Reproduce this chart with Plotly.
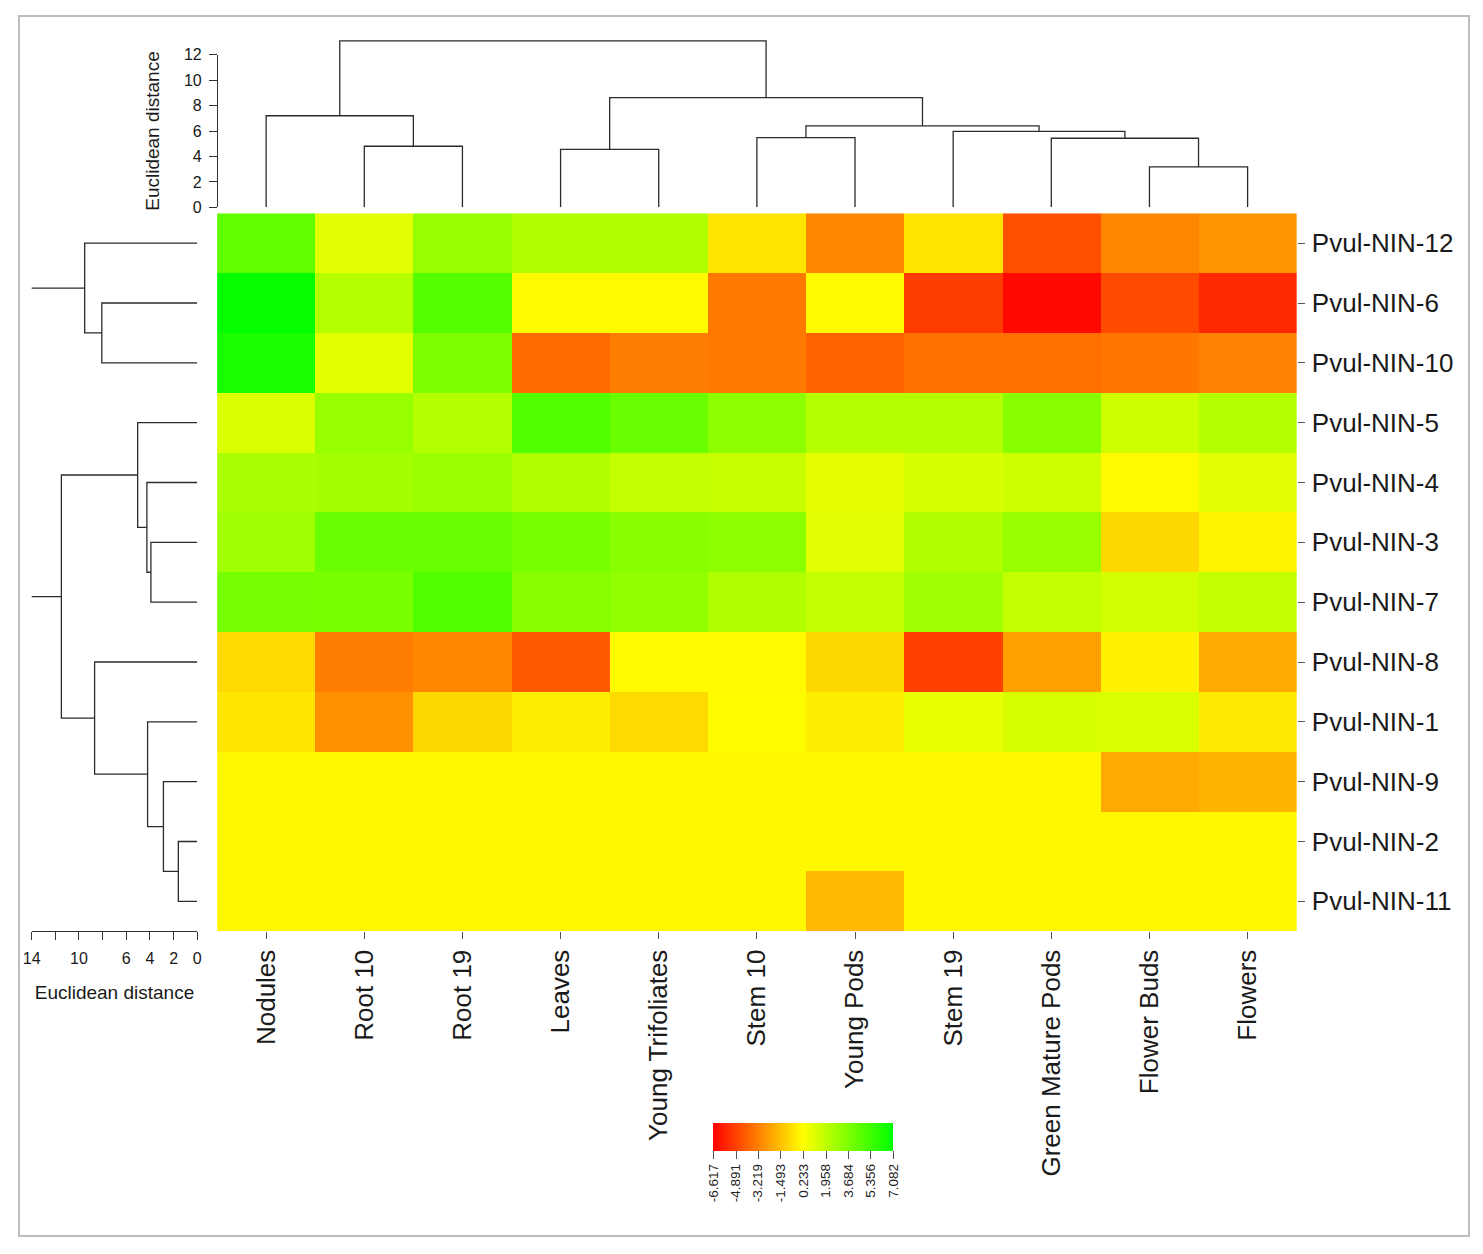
import plotly.graph_objects as go

# page is 1483x1254; the browser body keeps an 8px margin, so the figure is 16px smaller
PAGE_W, PAGE_H, OFF = 1483, 1254, 8
W, H = PAGE_W - 2 * OFF, PAGE_H - 2 * OFF

# ---------------- data ----------------
columns = ["Nodules", "Root 10", "Root 19", "Leaves", "Young Trifoliates", "Stem 10",
           "Young Pods", "Stem 19", "Green Mature Pods", "Flower Buds", "Flowers"]
genes = ["Pvul-NIN-12", "Pvul-NIN-6", "Pvul-NIN-10", "Pvul-NIN-5", "Pvul-NIN-4",
         "Pvul-NIN-3", "Pvul-NIN-7", "Pvul-NIN-8", "Pvul-NIN-1", "Pvul-NIN-9",
         "Pvul-NIN-2", "Pvul-NIN-11"]

nin12 = [4.53, 1.04, 3.05, 2.38, 2.38, -0.44, -2.99, -0.49, -4.47, -2.99, -2.59]
nin6 = [6.95, 2.25, 4.80, 0.10, 0.10, -3.39, 0.10, -5.01, -6.35, -4.60, -5.54]
nin10 = [6.41, 0.96, 3.72, -3.80, -3.26, -3.39, -3.93, -3.61, -3.61, -3.45, -3.13]
nin5 = [1.17, 3.05, 2.25, 4.93, 4.26, 3.32, 2.25, 2.25, 3.45, 1.57, 2.25]
nin4 = [2.52, 2.65, 2.92, 2.38, 1.84, 1.71, 0.90, 1.31, 1.57, 0.10, 1.04]
nin3 = [2.78, 4.26, 4.26, 3.86, 3.45, 3.32, 1.04, 2.38, 3.05, -0.84, -0.03]
nin7 = [3.91, 3.86, 4.93, 3.45, 3.18, 2.38, 1.84, 2.78, 1.84, 1.44, 1.84]
nin8 = [-0.77, -3.26, -2.99, -4.20, 0.10, 0.10, -0.84, -4.87, -2.32, -0.12, -2.05]
nin1 = [-0.44, -2.72, -0.84, -0.23, -0.77, 0.15, -0.23, 0.89, 1.31, 1.23, -0.39]
nin9 = [0.04, 0.04, 0.04, 0.04, 0.04, 0.04, 0.04, 0.04, 0.04, -2.05, -1.78]
nin2 = [0.04, 0.04, 0.04, 0.04, 0.04, 0.04, 0.04, 0.04, 0.04, 0.04, 0.04]
nin11 = [0.04, 0.04, 0.04, 0.04, 0.04, 0.04, -1.65, 0.04, 0.04, 0.04, 0.04]

# hclust-style merges: negative = leaf (1-based), positive = earlier merge (1-based)
col_merge = [[-2, -3], [-1, 1], [-4, -5], [-6, -7], [-10, -11], [-9, 5], [-8, 6],
             [4, 7], [3, 8], [2, 9]]
col_height = [4.8, 7.2, 4.55, 5.48, 3.18, 5.43, 5.97, 6.41, 8.63, 13.08]

row_merge = [[-2, -3], [-1, 1], [-6, -7], [-5, 3], [-4, 4], [-11, -12], [-10, 6],
             [-9, 7], [-8, 8], [5, 9], [2, 10]]
row_height = [8.07, 9.52, 3.92, 4.26, 5.04, 1.6, 2.86, 4.2, 8.68, 11.49, 15.0]

cb_ticks = [-6.617, -4.891, -3.219, -1.493, 0.233, 1.958, 3.684, 5.356, 7.082]
cb_labels = ["-6.617", "-4.891", "-3.219", "-1.493", "0.233", "1.958", "3.684", "5.356", "7.082"]
zmin, zmax = -6.617, 7.082

dist_ticks_top = [0, 2, 4, 6, 8, 10, 12]
dist_ticks_left = [0, 2, 4, 6, 8, 10, 12, 14]
dist_labels_left = ["0", "2", "4", "6", "", "10", "", "14"]

z = [nin12, nin6, nin10, nin5, nin4, nin3, nin7, nin8, nin1, nin9, nin2, nin11]


def fx(X):
    """page pixel x -> paper fraction"""
    return (X - OFF) / W


def fy(Y):
    """page pixel y (from top) -> paper fraction"""
    return (H - (Y - OFF)) / H


def dendro_segments(merge, heights):
    pos, hgt = [], []
    P, Hs = [], []

    def get(k):
        if k < 0:
            return -k - 1, 0.0
        return pos[k - 1], hgt[k - 1]

    for (a, b), h in zip(merge, heights):
        pa, ha = get(a)
        pb, hb = get(b)
        P += [pa, pa, pb, pb, None]
        Hs += [ha, h, h, hb, None]
        pos.append((pa + pb) / 2.0)
        hgt.append(h)
    return P, Hs


LINE = dict(color="#2b2b2b", width=1.3)
FONT = "Liberation Sans, Arial, sans-serif"

fig = go.Figure()

fig.add_trace(go.Heatmap(
    z=z, x=list(range(len(columns))), y=list(range(len(genes))),
    zmin=zmin, zmax=zmax,
    colorscale=[[0, "rgb(255,0,0)"], [0.5, "rgb(255,255,0)"], [1, "rgb(0,255,0)"]],
    xaxis="x", yaxis="y",
    colorbar=dict(orientation="h", x=fx(802), xanchor="center", y=fy(1130),
                  yanchor="top", len=180, lenmode="pixels", thickness=28,
                  thicknessmode="pixels", outlinewidth=0, ticks="outside", ticklen=8,
                  tickcolor="#555", tickvals=cb_ticks, ticktext=cb_labels, tickangle=-90,
                  tickfont=dict(size=13.5, color="#222", family=FONT), xpad=0, ypad=0),
    hoverinfo="skip",
))

# top dendrogram (columns)
cx, cy = dendro_segments(col_merge, col_height)
fig.add_trace(go.Scatter(x=cx, y=cy, mode="lines", line=LINE, xaxis="x2", yaxis="y2",
                         hoverinfo="skip"))
# helper trace for the distance axis of the top dendrogram
fig.add_trace(go.Scatter(x=[None], y=[None], mode="markers", xaxis="x2", yaxis="y3",
                         hoverinfo="skip"))

# left dendrogram (rows)
ry, rx = dendro_segments(row_merge, row_height)
fig.add_trace(go.Scatter(x=rx, y=ry, mode="lines", line=LINE, xaxis="x3", yaxis="y4",
                         hoverinfo="skip"))
fig.add_trace(go.Scatter(x=[None], y=[None], mode="markers", xaxis="x4", yaxis="y4",
                         hoverinfo="skip"))

hm_x = [fx(210), fx(1300)]
hm_y = [fy(936), fy(208)]
top_y = [fy(202), fy(202 - 13.5 * 12.9)]
top_tick_y = [fy(202), fy(202 - 12 * 12.9)]
left_x = [fx(190 - 14 * 11.94), fx(190)]

hidden = dict(visible=False, showgrid=False, zeroline=False)

fig.update_layout(
    width=W, height=H, margin=dict(l=0, r=0, t=0, b=0),
    paper_bgcolor="white", plot_bgcolor="rgba(0,0,0,0)", showlegend=False,
    font=dict(family=FONT, color="#1a1a1a"),
    xaxis=dict(domain=hm_x, range=[-0.5, 10.5], anchor="y", tickmode="array",
               tickvals=list(range(len(columns))), ticktext=columns, tickangle=-90,
               ticks="outside", ticklen=7, tickcolor="#555", showgrid=False,
               zeroline=False, showline=False, tickfont=dict(size=26, family=FONT),
               ticklabelstandoff=0),
    yaxis=dict(domain=hm_y, range=[11.5, -0.5], anchor="x", side="right", tickmode="array",
               tickvals=list(range(len(genes))), ticktext=genes, ticks="outside",
               ticklen=7, tickcolor="#555", showgrid=False, zeroline=False,
               showline=False, tickfont=dict(size=26, family=FONT), ticklabelstandoff=2),
    xaxis2=dict(domain=hm_x, range=[-0.5, 10.5], anchor="y2", **hidden),
    yaxis2=dict(domain=top_y, range=[0, 13.5], anchor="x2", **hidden),
    yaxis3=dict(domain=top_tick_y, range=[0, 12], anchor="free", position=fx(210),
                side="left", showline=True, linecolor="#333", linewidth=1.2,
                ticks="outside", ticklen=8, tickcolor="#333", tickvals=dist_ticks_top,
                showgrid=False, zeroline=False, tickfont=dict(size=16, family=FONT),
                ticklabelstandoff=4,
                title=dict(text="Euclidean distance", font=dict(size=19, family=FONT),
                           standoff=18)),
    xaxis3=dict(domain=left_x, range=[14, 0], anchor="y4", **hidden),
    yaxis4=dict(domain=hm_y, range=[11.5, -0.5], anchor="x3", **hidden),
    xaxis4=dict(domain=left_x, range=[14, 0], anchor="free", position=fy(936),
                side="bottom", showline=True, linecolor="#333", linewidth=1.2,
                ticks="outside", ticklen=8, tickcolor="#333", tickmode="array",
                tickvals=dist_ticks_left, ticktext=dist_labels_left, showgrid=False,
                zeroline=False, tickfont=dict(size=16, family=FONT), ticklabelstandoff=4,
                title=dict(text="Euclidean distance", font=dict(size=19, family=FONT),
                           standoff=20)),
    shapes=[
        dict(type="rect", xref="paper", yref="paper", x0=fx(10), x1=fx(1474),
             y0=fy(1245), y1=fy(8), line=dict(color="#bdbdbd", width=2),
             layer="below"),
    ],
)

fig.write_html("out.html", config={"displayModeBar": False})
